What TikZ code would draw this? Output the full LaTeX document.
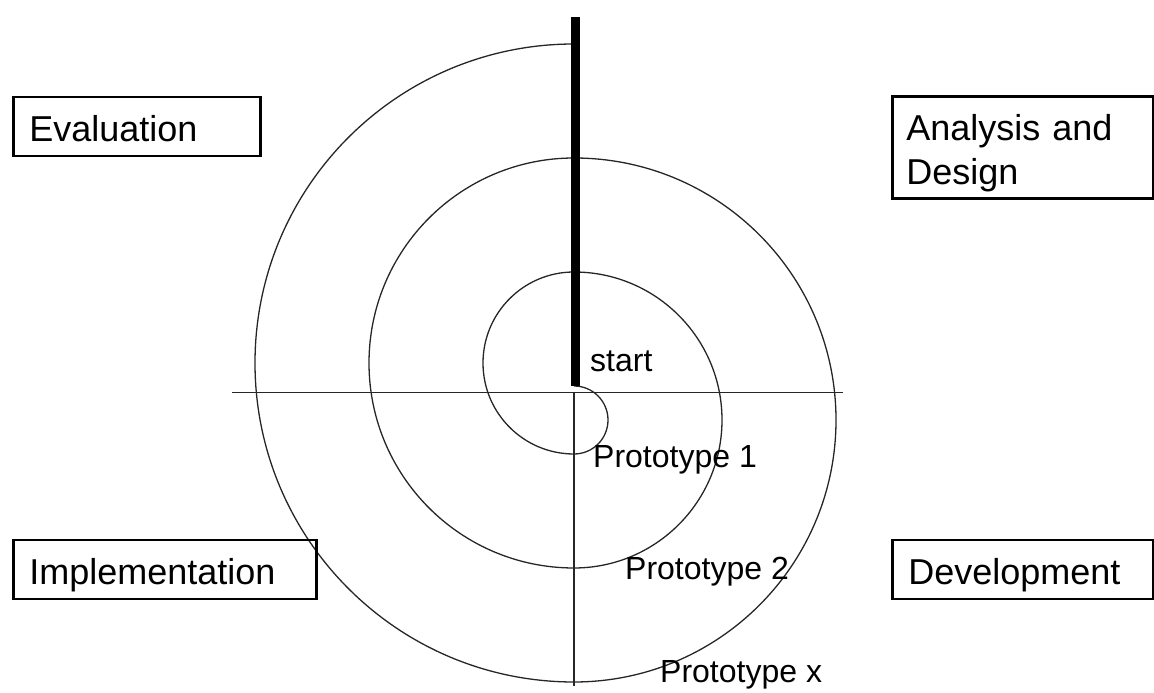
\documentclass[tikz,border=0pt]{standalone}
\usepackage{fontspec}
\setmainfont{Liberation Sans}
\begin{document}
\begin{tikzpicture}[x=1pt,y=1pt,
  thinline/.style={draw=black!85, line width=1.3pt},
  phasebox/.style={draw=black, line width=2.6pt, inner xsep=16pt, inner ysep=0pt,
     font=\fontsize{36}{44}\selectfont, align=left, anchor=base west},
  lbl/.style={font=\fontsize{32}{38}\selectfont, inner sep=0pt, anchor=base west}]
\useasboundingbox (0,0) rectangle (1154,693);
% axes
\coordinate (hL) at (232,300.7);
\coordinate (hR) at (843,300.7);
\coordinate (vT) at (574,300.7);
\coordinate (vB) at (574,7);
\draw[thinline] (hL) -- (hR);
\draw[thinline] (vT) -- (vB);
% spiral
\coordinate (s0) at (574,307);
\draw[thinline] (s0)
  arc[start angle=90, end angle=-90, radius=34pt]
  arc[start angle=270, end angle=90, radius=91pt]
  arc[start angle=90, end angle=-90, radius=148pt]
  arc[start angle=270, end angle=90, radius=205pt]
  arc[start angle=90, end angle=-90, radius=262pt]
  arc[start angle=270, end angle=90, radius=319pt];
% thick start line
\coordinate (tT) at (575.5,676);
\coordinate (tB) at (575.5,307);
\draw[line width=8.5pt] (tT) -- (tB);
% boxes
\node[phasebox, text width=215pt, text height=45pt, text depth=14pt] (ev) at (12,551) {Evaluation};
\node[phasebox, text width=271pt, text height=45pt, text depth=14pt] (impl) at (12,108) {Implementation};
\node[phasebox, text width=229pt, text height=45pt, text depth=14pt] (dev) at (891,108) {Development};
\node[draw=black, line width=2.6pt, inner xsep=14pt, inner ysep=0pt,
     font=\fontsize{36}{44}\selectfont, align=left, text width=233pt,
     minimum height=102pt, anchor=south west] (ad) at (891,493)
     {\rule{0pt}{44pt}Analysis and\\Design\rule[-14pt]{0pt}{14pt}};
% labels
\node[lbl] (lstart) at (590,321) {start};
\node[lbl] (p1) at (593,225) {Prototype 1};
\node[lbl] (p2) at (625,113) {Prototype 2};
\node[lbl] (px) at (660,10) {Prototype x};
\end{tikzpicture}
\end{document}
